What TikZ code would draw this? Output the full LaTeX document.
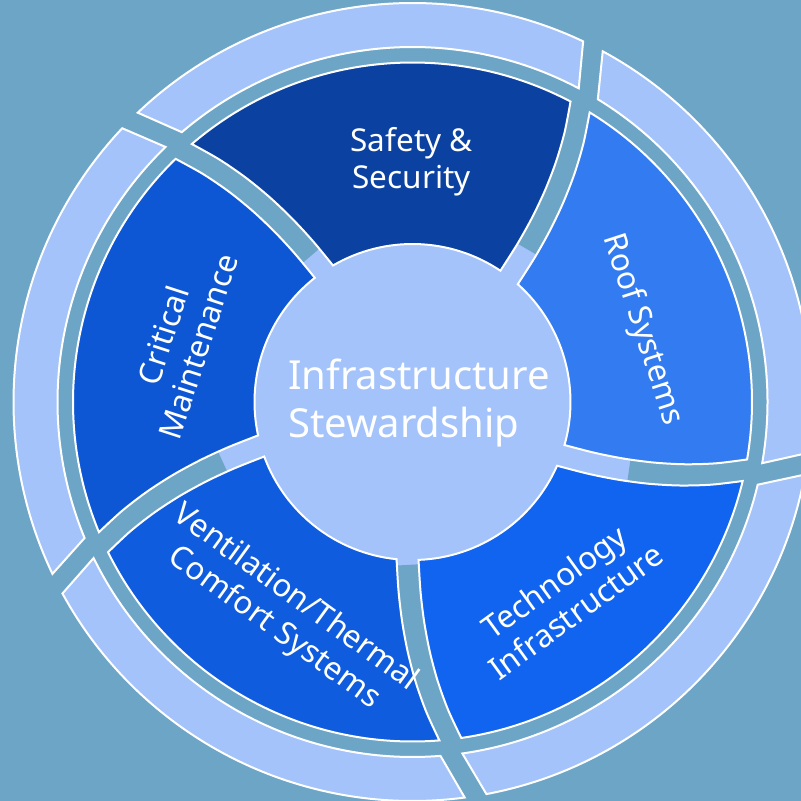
\documentclass[tikz,border=0pt]{standalone}
\usepackage{fontspec}
\setmainfont{Noto Sans}
\definecolor{bgblue}{HTML}{6DA5C7}
\definecolor{paleblue}{HTML}{A3C3FA}
\definecolor{safety}{HTML}{0B41A0}
\definecolor{roof}{HTML}{327BF0}
\definecolor{tech}{HTML}{1064F0}
\definecolor{vent}{HTML}{0F5CDE}
\definecolor{crit}{HTML}{0D57D4}
\tikzset{
  segment/.style={draw=white, line width=2pt},
  ringpart/.style={fill=paleblue, draw=white, line width=2pt},
  gapline/.style={draw=bgblue, line width=26pt},
  seglabel/.style={text=white, align=center, inner sep=0pt,
    font=\fontsize{31.5}{37}\selectfont}
}
\begin{document}
\begin{tikzpicture}[x=1pt, y=1pt,
  declare function={dth(\x)=8.2*(0.55*((\x-158)/181.5)+0.45*((\x-158)/181.5)^2);}]
  \useasboundingbox (-412.5,-399) rectangle (388.5,402);
  \clip (-412.5,-399) rectangle (388.5,402);
  \fill[bgblue] (-412.5,-399) rectangle (388.5,402);
  \fill[paleblue] (0,0) circle (230);
  % gaps between the segments, close to the hub
  \foreach \k/\rs in {0/191,1/227,2/163,3/199,4/178}
    \draw[gapline] plot[smooth, variable=\r, domain=\rs:262, samples=6]
      ({52.2-72*\k+dth(\r)}:\r);
  % segments and outer ring
  \foreach \k/\col in {0/safety,1/roof,2/tech,3/vent,4/crit}{
    \pgfmathsetmacro\gR{52.2-72*\k}
    \pgfmathsetmacro\gL{\gR+72}
    \path[segment, fill=\col] ({\gR+630.3/158}:158)
      arc[start angle={\gR+630.3/158}, end angle={\gL-630.3/158}, radius=158]
      -- plot[smooth, variable=\r, samples at={158,190,220,250,280,310,339.5}]
        ({\gL+dth(\r)-630.3/\r}:\r)
      arc[start angle={\gL+dth(339.5)-630.3/339.5},
        end angle={\gR+dth(339.5)+630.3/339.5}, radius=339.5]
      -- plot[smooth, variable=\r, samples at={339.5,310,280,250,220,190,158}]
        ({\gR+dth(\r)+630.3/\r}:\r)
      -- cycle;
    \path[ringpart] ({\gR+8.1+630.3/355}:355) -- ({\gR+10.9+630.3/399}:399)
      arc[start angle={\gR+10.9+630.3/399}, end angle={\gL+10.9-630.3/399}, radius=399]
      -- ({\gL+8.1-630.3/355}:355)
      arc[start angle={\gL+8.1-630.3/355}, end angle={\gR+8.1+630.3/355}, radius=355]
      -- cycle;
  }
  \node[seglabel] (safety) at (90.2:240.3) {Safety \&\\Security};
  \node[seglabel, rotate=-72] (roof) at (17.4:241) {Roof Systems};
  \node[seglabel, rotate=36] (tech) at (-51.95:247.1) {Technology\\Infrastructure};
  \node[seglabel, rotate=-36] (vent) at (-121.2:246.8) {Ventilation/Thermal\\Comfort Systems};
  \node[seglabel, rotate=72] (crit) at (165.24:240.1) {Critical\\Maintenance};
  \node[text=white, align=left, anchor=west, inner sep=0pt,
    font=\fontsize{40}{48}\selectfont] (hub) at (-124.5,-1.3) {Infrastructure\\Stewardship};
\end{tikzpicture}
\end{document}
